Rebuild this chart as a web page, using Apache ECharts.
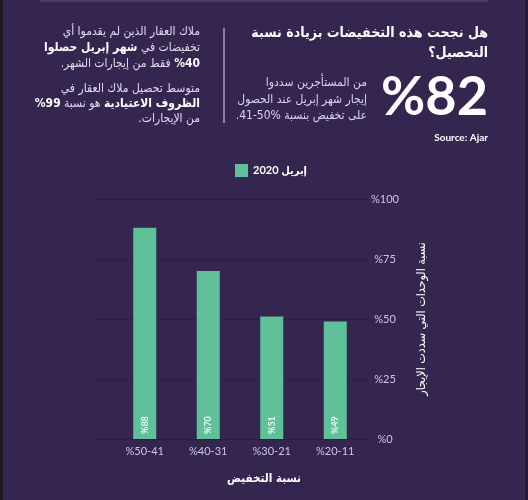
<!DOCTYPE html>
<html>
<head>
<meta charset="utf-8">
<script src="https://cdn.jsdelivr.net/npm/echarts@6/dist/echarts.min.js"></script>
<style>
html,body{margin:0;padding:0;background:#35264f;}
#c{width:528px;height:500px;direction:rtl;}
</style>
</head>
<body>
<div id="c"></div>
<script>
// ---- data ----
const categories = ['%50-41', '%40-31', '%30-21', '%20-11'];
const seriesName = 'إبريل 2020';
const values = [88, 70, 51, 49];
const yTicks = [0, 25, 50, 75, 100];
const yAxisTitle = 'نسبة الوحدات التي سددت الإيجار';
const xAxisTitle = 'نسبة التخفيض';
const headline = ['هل نجحت هذه التخفيضات بزيادة نسبة', 'التحصيل؟'];
const bigStat = '%82';
const statText = ['من المستأجرين سددوا', 'إيجار شهر إبريل عند الحصول', 'على تخفيض بنسبة %50-41.'];
const sourceText = 'Source: Ajar';
const leftText = [
  'ملاك العقار الذين لم يقدموا أي',
  '{b|شهر إبريل حصلوا}{n| }{n|تخفيضات في}',
  '{n|فقط من إيجارات الشهر.}{n| }{b|%40}',
  'متوسط تحصيل ملاك العقار في',
  '{b|%99}{n| }{n|هو نسبة}{n| }{b|الظروف الاعتيادية}',
  'من الإيجارات.'
];

const FONT = "Lato, 'DejaVu Sans Condensed', 'DejaVu Sans', sans-serif";
const AR = "'DejaVu Sans Condensed', 'DejaVu Sans', sans-serif";
const lav = '#cfc6e2';
const green = '#60c09a';

// fit a font size so a text reaches a target width (styling helper)
const mctx = document.createElement('canvas').getContext('2d');
function fit(text, weight, target) {
  mctx.font = weight + ' 20px ' + AR;
  const w = mctx.measureText(text).width;
  return Math.round(20 * target / w * 10) / 10;
}
const hSize = fit(headline[0], 'bold', 236);
const lSize = fit(leftText[0], 'normal', 137);
const sSize = lSize;
const yTSize = fit(yAxisTitle, 'normal', 153);
const xTSize = fit(xAxisTitle, 'bold', 74);

const chart = echarts.init(document.getElementById('c'), null, {renderer: 'canvas'});

const graphics = [
  {type:'rect', shape:{x:0,y:0,width:3,height:500}, style:{fill:'#1f1a26'}, silent:true},
  {type:'rect', shape:{x:525,y:0,width:3,height:500}, style:{fill:'#241d30'}, silent:true},
  {type:'rect', shape:{x:40,y:0,width:448,height:2}, style:{fill:'#4a3c68'}, silent:true},
  {type:'line', shape:{x1:224,y1:28,x2:224,y2:123}, style:{stroke:'#a99cc9', lineWidth:1.5}, silent:true}
];
const hy = [33, 53];
headline.forEach((t,i)=>graphics.push({type:'text', x:488, y:hy[i], style:{text:t, align:'right', verticalAlign:'middle', fill:'#ffffff', fontSize:hSize, fontWeight:'bold', fontFamily:AR}}));
graphics.push({type:'text', x:488, y:98, style:{text:bigStat, align:'right', verticalAlign:'middle', fill:'#ffffff', fontSize:54, fontWeight:'bold', fontFamily:FONT}});
const sy = [83, 100, 116];
statText.forEach((t,i)=>graphics.push({type:'text', x:367, y:sy[i], style:{text:t, align:'right', verticalAlign:'middle', fill:'#ddd5ec', fontSize:sSize, fontFamily:AR}}));
graphics.push({type:'text', x:488, y:138, style:{text:sourceText, align:'right', verticalAlign:'middle', fill:'#ffffff', fontSize:10, fontWeight:'bold', fontFamily:FONT}});
const ly = [32, 48, 64, 89, 104, 119];
leftText.forEach((t,i)=>graphics.push({type:'text', x:200, y:ly[i], style:{text:t, align:'right', verticalAlign:'middle', fill:'#e2dbef', fontSize:lSize, fontFamily:AR,
  rich:{n:{fontSize:lSize, fontFamily:AR, fill:'#e2dbef'}, b:{fontSize:lSize, fontFamily:AR, fontWeight:'bold', fill:'#ffffff'}}}}));
graphics.push({type:'text', x:422, y:319, rotation:Math.PI/2, style:{text:yAxisTitle, align:'center', verticalAlign:'middle', fill:'#ffffff', fontSize:yTSize, fontFamily:AR}});
graphics.push({type:'text', x:264, y:479, style:{text:xAxisTitle, align:'center', verticalAlign:'middle', fill:'#ffffff', fontSize:xTSize, fontWeight:'bold', fontFamily:AR}});

const option = {
  backgroundColor: '#35264f',
  animation: false,
  legend: {
    data:[seriesName], left:230, top:159, itemWidth:13, itemHeight:13, icon:'rect', itemGap:5,
    textStyle:{color:'#ffffff', fontSize:11, fontWeight:'bold', fontFamily:FONT}
  },
  grid: [
    {left:113, right:161, top:199, bottom:61},
    {left:97, right:161, top:199, bottom:61}
  ],
  xAxis: [
    {type:'category', gridIndex:0, data:categories,
     axisLine:{show:false}, axisTick:{show:false},
     axisLabel:{color:lav, fontSize:11, fontFamily:FONT, margin:7}},
    {type:'category', gridIndex:1, data:categories, show:false}
  ],
  yAxis: [
    {type:'value', gridIndex:0, min:0, max:100, interval:25, show:false},
    {type:'value', gridIndex:1, min:yTicks[0], max:yTicks[yTicks.length-1], interval:25, position:'right',
     axisLine:{show:false}, axisTick:{show:false},
     splitLine:{lineStyle:{color:'#2a1f3f', width:1}},
     axisLabel:{color:lav, fontSize:11, fontFamily:FONT, align:'center', margin:18, formatter: v => '%' + v}}
  ],
  series: [{
    name: seriesName, type:'bar', xAxisIndex:0, yAxisIndex:0, data: values, barWidth:23,
    itemStyle:{color:green},
    label:{show:true, position:'insideBottom', rotate:90, align:'left', verticalAlign:'middle', distance:5,
      formatter: p => '%' + p.value, color:'#eaf7f1', fontSize:9, fontWeight:'bold', fontFamily:FONT}
  }],
  graphic: graphics
};
chart.setOption(option);
</script>
</body>
</html>
